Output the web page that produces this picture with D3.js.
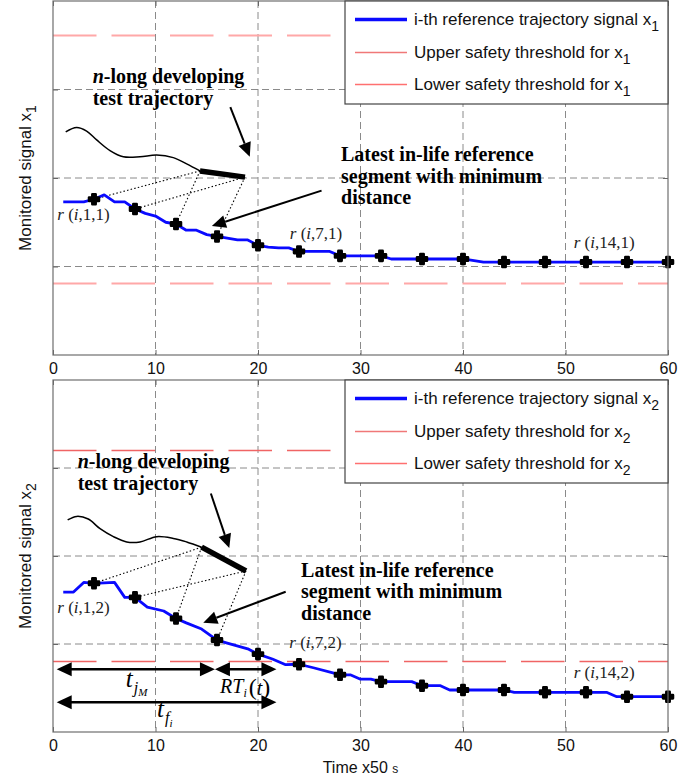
<!DOCTYPE html>
<html><head><meta charset="utf-8">
<script src="https://cdn.jsdelivr.net/npm/d3@7"></script>
<style>body{margin:0;background:#fff}svg{display:block}</style>
</head><body>
<svg id="chart" width="679" height="783"></svg>
<script>
// ---------------- data ----------------
const xTickValues = [0, 10, 20, 30, 40, 50, 60];
const yGridValues = [1, 2, 3];
const xAxisTitle = "Time x50 ";
const xAxisUnit = "s";
const yAxisTitle = "Monitored signal x";
const signalIndex = ["1", "2"];
const legendLabels = ["i-th reference trajectory signal x", "Upper safety threshold for x", "Lower safety threshold for x"];

// i-th reference trajectory, signal x1
const refTime1 = [1, 3, 4, 5, 6, 7, 8, 9, 10, 11, 12, 13, 14, 15, 16, 17, 18, 19, 20, 21, 22, 23, 24, 27, 28, 32, 33, 36, 40, 42, 44, 48, 52, 56, 60];
const refSignal1 = [1.73, 1.73, 1.76, 1.81, 1.73, 1.73, 1.65, 1.60, 1.57, 1.50, 1.48, 1.41, 1.41, 1.36, 1.34, 1.32, 1.30, 1.30, 1.24, 1.22, 1.21, 1.21, 1.17, 1.17, 1.12, 1.12, 1.085, 1.085, 1.085, 1.05, 1.05, 1.05, 1.05, 1.05, 1.05];
// i-th reference trajectory, signal x2
const refTime2 = [1, 2, 3, 4, 6, 7, 8, 9.2, 10.8, 12, 13, 14.5, 16, 17, 19, 20, 21.4, 22.7, 24, 25.4, 27.4, 28, 29, 30, 31, 32, 35, 36, 37.8, 38.7, 40, 44, 45, 48, 52, 54, 55, 56, 60];
const refSignal2 = [1.59, 1.59, 1.70, 1.69, 1.70, 1.53, 1.53, 1.42, 1.375, 1.29, 1.24, 1.17, 1.045, 1.01, 0.945, 0.885, 0.83, 0.765, 0.77, 0.73, 0.67, 0.65, 0.65, 0.60, 0.60, 0.572, 0.572, 0.526, 0.526, 0.477, 0.477, 0.477, 0.451, 0.451, 0.451, 0.451, 0.401, 0.401, 0.401];
// sampled reference points r(i,k,j)
const sampleTimes = [4, 8, 12, 16, 20, 24, 28, 32, 36, 40, 44, 48, 52, 56, 60];

// n-long developing test trajectory
const testTime1 = [1.24, 2.3, 3.28, 4.26, 5.56, 6.86, 8.49, 10.11, 11.74, 13.04, 14.34];
const testSignal1 = [2.52, 2.57, 2.53, 2.43, 2.31, 2.24, 2.24, 2.26, 2.23, 2.16, 2.08];
const testTime2 = [1.43, 2.31, 3.44, 4.59, 5.89, 7.19, 8.49, 10.11, 11.74, 13.04, 14.5];
const testSignal2 = [2.41, 2.45, 2.42, 2.31, 2.22, 2.16, 2.16, 2.22, 2.20, 2.16, 2.10];
// latest n-long segment of the test trajectory
const segTime1 = [14.34, 18.73];
const segSignal1 = [2.08, 2.01];
const segTime2 = [14.5, 18.83];
const segSignal2 = [2.10, 1.83];
// safety thresholds
const upperThreshold = [3.62, 3.21];
const lowerThreshold = [0.81, 0.807];
// time spans (bottom panel)
const tjM = [0.36, 15.8];
const RTi = [15.8, 21.8];
const tfi = [0.36, 21.8];

// ---------------- layout ----------------
const svg = d3.select("#chart");
const x = d3.scaleLinear().domain([0, 60]).range([53, 668]);
const panelBoxes = [{ top: 1, bottom: 355 }, { top: 380, bottom: 732 }];
const SANS = "'Liberation Sans', Arial, Helvetica, sans-serif";
const SERIF = "'Liberation Serif', 'Times New Roman', Times, serif";

function arrowHead(g, x1, y1, x2, y2, len, hw) {
  const dx = x2 - x1, dy = y2 - y1, L = Math.hypot(dx, dy);
  const ux = dx / L, uy = dy / L, nx = -uy, ny = ux;
  const bx = x2 - ux * len, by = y2 - uy * len;
  g.append("path")
    .attr("d", `M${x2},${y2}L${bx + nx * hw},${by + ny * hw}L${bx - nx * hw},${by - ny * hw}Z`)
    .attr("fill", "#000");
  return [bx, by];
}
function arrow(g, x1, y1, x2, y2) {
  const [bx, by] = arrowHead(g, x1, y1, x2, y2, 14, 6.5);
  g.append("line").attr("x1", x1).attr("y1", y1).attr("x2", bx).attr("y2", by)
    .attr("stroke", "#000").attr("stroke-width", 2);
}
function doubleArrow(g, x1, x2, yy) {
  g.append("line").attr("x1", x1 + 10).attr("x2", x2 - 10).attr("y1", yy).attr("y2", yy)
    .attr("stroke", "#000").attr("stroke-width", 2.5);
  arrowHead(g, x2, yy, x1, yy, 15, 7);
  arrowHead(g, x1, yy, x2, yy, 15, 7);
}
function boldLabel(g, px, py, lines, italicFirst) {
  const t = g.append("text").attr("font-family", SERIF).attr("font-weight", "bold")
    .attr("font-size", 20).attr("fill", "#000");
  lines.forEach((ln, i) => {
    if (i === 0 && italicFirst) {
      t.append("tspan").attr("x", px).attr("y", py).attr("font-style", "italic").text("n");
      t.append("tspan").text(ln);
    } else {
      t.append("tspan").attr("x", px).attr("y", py + i * 21.5).text(ln);
    }
  });
}
function rLabel(g, px, py, k, j) {
  const t = g.append("text").attr("x", px).attr("y", py).attr("font-family", SERIF)
    .attr("font-size", 17).attr("fill", "#222");
  t.append("tspan").attr("font-style", "italic").text("r");
  t.append("tspan").text(" (");
  t.append("tspan").attr("font-style", "italic").text("i");
  t.append("tspan").text("," + k + "," + j + ")");
}

const refTimes = [refTime1, refTime2];
const refSignals = [refSignal1, refSignal2];
const testTimes = [testTime1, testTime2];
const testSignals = [testSignal1, testSignal2];
const segTimes = [segTime1, segTime2];
const segSignals = [segSignal1, segSignal2];
const redColors = ["#ffa8a8", "#f06464"];
const redWidths = [2, 1.3];
// annotation anchors (data coordinates)
const annot = [
  { nlong: [3.87, 3.07], arrow1: [17.3, 2.80, 19.2, 2.24], latest: [28.1, 2.19], arrow2: [26.2, 1.857, 15.5, 1.458],
    r1: [0.42, 1.53], r7: [23.1, 1.31], r14: [50.8, 1.21] },
  { nlong: [2.41, 3.00], arrow1: [15.4, 2.71, 17.2, 2.09], latest: [24.2, 1.765], arrow2: [22.7, 1.594, 14.66, 1.242],
    r1: [0.42, 1.352], r7: [23.05, 0.951], r14: [50.8, 0.614] }
];

panelBoxes.forEach((pb, pi) => {
  const y = d3.scaleLinear().domain([0, 4]).range([pb.bottom, pb.top]);
  const g = svg.append("g");
  const A = annot[pi];

  // grid
  g.selectAll("line.vg").data(xTickValues.filter(v => v > 0 && v < 60)).join("line").attr("class", "vg")
    .attr("x1", d => x(d)).attr("x2", d => x(d)).attr("y1", pb.top).attr("y2", pb.bottom)
    .attr("stroke", "#8a8a8a").attr("stroke-width", 1).attr("stroke-dasharray", "7,4");
  g.selectAll("line.hg").data(yGridValues).join("line").attr("class", "hg")
    .attr("x1", x(0)).attr("x2", x(60)).attr("y1", d => y(d)).attr("y2", d => y(d))
    .attr("stroke", "#8a8a8a").attr("stroke-width", 1).attr("stroke-dasharray", "7,4");

  // thresholds
  g.selectAll("line.thr").data([upperThreshold[pi], lowerThreshold[pi]]).join("line").attr("class", "thr")
    .attr("x1", x(0)).attr("x2", x(60)).attr("y1", d => Math.round(y(d)) + 0.5).attr("y2", d => Math.round(y(d)) + 0.5)
    .attr("stroke", redColors[pi]).attr("stroke-width", redWidths[pi]).attr("stroke-dasharray", "43.5,15");

  // test trajectory
  const testPts = testTimes[pi].map((t, i) => [t, testSignals[pi][i]]);
  g.append("path").datum(testPts)
    .attr("d", d3.line().x(d => x(d[0])).y(d => y(d[1])).curve(d3.curveCatmullRom))
    .attr("fill", "none").attr("stroke", "#000").attr("stroke-width", 1.5);
  const segPts = segTimes[pi].map((t, i) => [t, segSignals[pi][i]]);

  // reference trajectory
  const refPts = refTimes[pi].map((t, i) => [t, refSignals[pi][i]]);
  const samples = refPts.filter(p => sampleTimes.includes(p[0]));

  // dotted connectors: segment ends to r(i,1..4)
  const links = [[0, 4], [1, 8], [0, 12], [1, 16]];
  links.forEach(([si, st]) => {
    const s = samples.find(p => p[0] === st);
    g.append("line").attr("x1", x(segPts[si][0])).attr("y1", y(segPts[si][1]))
      .attr("x2", x(s[0])).attr("y2", y(s[1]))
      .attr("stroke", "#000").attr("stroke-width", 1.1).attr("stroke-dasharray", "1.5,2.2");
  });

  g.append("path").datum(refPts)
    .attr("d", d3.line().x(d => x(d[0])).y(d => y(d[1])))
    .attr("fill", "none").attr("stroke", "#0a0aff").attr("stroke-width", 2.8).attr("stroke-linejoin", "round");

  g.append("path").datum(segPts)
    .attr("d", d3.line().x(d => x(d[0])).y(d => y(d[1])))
    .attr("fill", "none").attr("stroke", "#000").attr("stroke-width", 5.5);

  g.selectAll("path.mk").data(samples).join("path").attr("class", "mk")
    .attr("transform", d => `translate(${x(d[0])},${y(d[1])})`)
    .attr("d", d3.symbol().type(d3.symbolCross).size(55))
    .attr("fill", "#000").attr("stroke", "#000").attr("stroke-width", 2.6).attr("stroke-linejoin", "round");

  // annotations
  boldLabel(g, x(A.nlong[0]), y(A.nlong[1]), ["-long developing", "test trajectory"], true);
  arrow(g, x(A.arrow1[0]), y(A.arrow1[1]), x(A.arrow1[2]), y(A.arrow1[3]));
  boldLabel(g, x(A.latest[0]), y(A.latest[1]), ["Latest in-life reference", "segment with minimum", "distance"], false);
  arrow(g, x(A.arrow2[0]), y(A.arrow2[1]), x(A.arrow2[2]), y(A.arrow2[3]));
  const j = signalIndex[pi];
  rLabel(g, x(A.r1[0]), y(A.r1[1]), "1", j);
  rLabel(g, x(A.r7[0]), y(A.r7[1]), "7", j);
  rLabel(g, x(A.r14[0]), y(A.r14[1]), "14", j);

  if (pi === 1) {
    const yA = y(0.712), yB = y(0.3375);
    doubleArrow(g, x(tjM[0]), x(tjM[1]), yA);
    doubleArrow(g, x(RTi[0]), x(RTi[1]), yA);
    doubleArrow(g, x(tfi[0]), x(tfi[1]), yB);
    // t_{j_M}
    const t1 = g.append("text").attr("x", x(7.1)).attr("y", y(0.51)).attr("font-family", SERIF)
      .attr("font-style", "italic").attr("fill", "#000");
    t1.append("tspan").attr("font-size", 25).text("t");
    t1.append("tspan").attr("font-size", 16).attr("dx", 1).attr("dy", 6).text("j");
    t1.append("tspan").attr("font-size", 11).attr("dy", 3).text("M");
    // RT_i(t)
    const t2 = g.append("text").attr("x", x(16.3)).attr("y", y(0.44)).attr("font-family", SERIF)
      .attr("fill", "#000");
    t2.append("tspan").attr("font-style", "italic").attr("font-size", 20).text("RT");
    t2.append("tspan").attr("font-style", "italic").attr("font-size", 12).attr("dy", 4).text("i");
    t2.append("tspan").attr("font-size", 24).attr("dx", 2).attr("dy", -2).text("(");
    t2.append("tspan").attr("font-style", "italic").attr("font-size", 20).text("t");
    t2.append("tspan").attr("font-size", 24).text(")");
    // t_{f_i}
    const t3 = g.append("text").attr("x", x(10.15)).attr("y", y(0.17)).attr("font-family", SERIF)
      .attr("font-style", "italic").attr("fill", "#000");
    t3.append("tspan").attr("font-size", 25).text("t");
    t3.append("tspan").attr("font-size", 16).attr("dx", 1).attr("dy", 6).text("f");
    t3.append("tspan").attr("font-size", 11).attr("dy", 4).text("i");
  }

  // axes ticks (inward)
  const ax = g.append("g").attr("transform", `translate(0,${pb.bottom})`)
    .call(d3.axisBottom(x).tickValues(xTickValues).tickSizeInner(-5).tickSizeOuter(0).tickPadding(8));
  ax.select(".domain").remove();
  ax.selectAll("line").attr("stroke", "#666");
  ax.selectAll("text").attr("font-family", SANS).attr("font-size", 16).attr("fill", "#111");
  const axT = g.append("g").attr("transform", `translate(0,${pb.top})`)
    .call(d3.axisTop(x).tickValues(xTickValues).tickSizeInner(-5).tickSizeOuter(0).tickFormat(""));
  axT.select(".domain").remove(); axT.selectAll("line").attr("stroke", "#666");
  const axL = g.append("g").attr("transform", `translate(${x(0)},0)`)
    .call(d3.axisLeft(y).tickValues(yGridValues).tickSizeInner(-5).tickSizeOuter(0).tickFormat(""));
  axL.select(".domain").remove(); axL.selectAll("line").attr("stroke", "#666");
  const axR = g.append("g").attr("transform", `translate(${x(60)},0)`)
    .call(d3.axisRight(y).tickValues(yGridValues).tickSizeInner(-5).tickSizeOuter(0).tickFormat(""));
  axR.select(".domain").remove(); axR.selectAll("line").attr("stroke", "#666");

  // box
  g.append("rect").attr("x", x(0)).attr("y", pb.top).attr("width", x(60) - x(0)).attr("height", pb.bottom - pb.top)
    .attr("fill", "none").attr("stroke", "#6e6e6e").attr("stroke-width", 1.2);

  // legend
  const lg = g.append("g");
  const lx0 = 345, lx1 = x(60), ly0 = pb.top, ly1 = pb.top + 103;
  lg.append("rect").attr("x", lx0).attr("y", ly0).attr("width", lx1 - lx0).attr("height", ly1 - ly0)
    .attr("fill", "#fff").attr("stroke", "#444").attr("stroke-width", 1.2);
  const rowY = [ly0 + 18.5, ly0 + 51.5, ly0 + 83.5];
  const legendStroke = ["#0a0aff", "#f07878", "#ff7070"];
  const legendWidth = [3.5, 1.3, 1.3];
  legendLabels.forEach((lab, i) => {
    lg.append("line").attr("x1", 355).attr("x2", 407).attr("y1", rowY[i]).attr("y2", rowY[i])
      .attr("stroke", legendStroke[i]).attr("stroke-width", legendWidth[i]);
    const t = lg.append("text").attr("x", 414).attr("y", rowY[i] + 5.5).attr("font-family", SANS)
      .attr("font-size", 17).attr("fill", "#111");
    t.append("tspan").text(lab);
    t.append("tspan").attr("font-size", 14).attr("dy", 6).text(signalIndex[pi]);
  });

  // y-axis title
  const yt = g.append("text").attr("transform", `translate(31,${(pb.top + pb.bottom) / 2}) rotate(-90)`)
    .attr("text-anchor", "middle").attr("font-family", SANS).attr("font-size", 17).attr("fill", "#111");
  yt.append("tspan").text(yAxisTitle);
  yt.append("tspan").attr("font-size", 14).attr("dy", 5).text(signalIndex[pi]);
});

// x-axis title
const xt = svg.append("text").attr("x", x(30)).attr("y", 773).attr("text-anchor", "middle")
  .attr("font-family", SANS).attr("font-size", 16).attr("fill", "#111");
xt.append("tspan").text(xAxisTitle);
xt.append("tspan").attr("font-size", 12).text(xAxisUnit);
</script>
</body></html>
